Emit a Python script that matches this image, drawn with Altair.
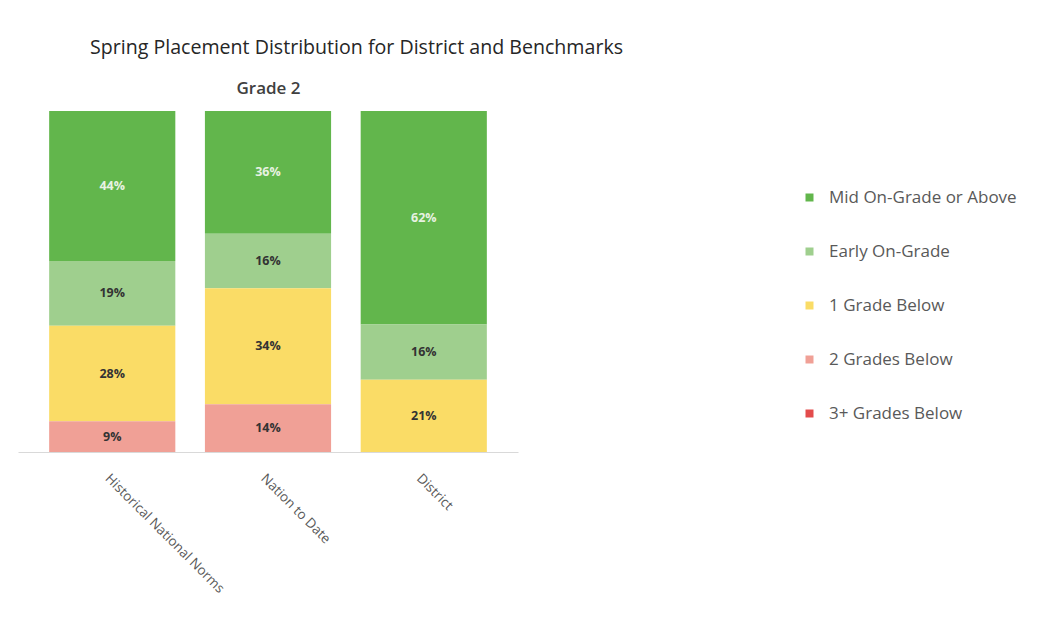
import altair as alt
import pandas as pd

groups = ["Historical National Norms", "Nation to Date", "District"]
levels = ["Mid On-Grade or Above", "Early On-Grade", "1 Grade Below", "2 Grades Below", "3+ Grades Below"]
colors = ["#62b64c", "#9fcf8e", "#fadc66", "#f0a096", "#e34c4c"]
mid = [44, 36, 62]
early = [19, 16, 16]
one_below = [28, 34, 21]
two_below = [9, 14, 0]
three_below = [0, 0, 0]

series = [mid, early, one_below, two_below, three_below]
rows = []
for i, g in enumerate(groups):
    for rank, (lvl, vals) in enumerate(zip(levels, series)):
        rows.append({"group": g, "level": lvl, "value": vals[i], "order": 4 - rank})
df = pd.DataFrame(rows)

FONT = "Open Sans"

base = alt.Chart(df).transform_stack(
    stack="value", groupby=["group"], as_=["v0", "v1"], offset="normalize",
    sort=[alt.SortField("order", order="ascending")]
).transform_calculate(
    mid="(datum.v0 + datum.v1) / 2",
    label="datum.value + '%'"
)

x_enc = alt.X(
    "group:N", sort=groups,
    scale=alt.Scale(paddingInner=0.19, paddingOuter=0.2),
    axis=alt.Axis(title=None, labelAngle=45, labelAlign="left", labelBaseline="top",
                  labelPadding=19, labelFontSize=13.5, labelColor="#595959", labelFont=FONT,
                  domainColor="#d9d9d9", ticks=False, labelLimit=400, grid=False)
)

y_axis = alt.Axis(title="Grade 2", labels=False, ticks=False, domain=False, grid=False,
                  titleAngle=0, titleX=250, titleY=-23, titleAlign="center",
                  titleBaseline="middle", titleFontSize=17, titleFontWeight=600,
                  titleColor="#404040", titleFont=FONT)

bars = base.mark_bar().encode(
    x=x_enc,
    y=alt.Y("v0:Q", scale=alt.Scale(domain=[0, 1], nice=False), axis=y_axis),
    y2="v1:Q",
    color=alt.Color(
        "level:N",
        scale=alt.Scale(domain=levels, range=colors),
        legend=alt.Legend(title=None, orient="none", legendX=783, legendY=78,
                          symbolType="square", symbolSize=64, symbolStrokeWidth=0,
                          labelFontSize=17, labelColor="#595959", labelFont=FONT,
                          rowPadding=36, labelOffset=11, labelLimit=400)
    ),
)

texts = base.transform_filter("datum.value > 0").mark_text(
    fontSize=12.5, fontWeight="bold", font=FONT
).encode(
    x=alt.X("group:N", sort=groups),
    y=alt.Y("mid:Q"),
    text="label:N",
    color=alt.condition(alt.datum.level == "Mid On-Grade or Above",
                        alt.value("#e8f2e2"), alt.value("#333333")),
)

chart = alt.layer(bars, texts).properties(
    width=500, height=341,
    padding={"left": 10, "top": 103, "right": 511, "bottom": 171},
    autosize=alt.AutoSizeParams(type="none"),
    background="white",
    title=alt.TitleParams(
        "Spring Placement Distribution for District and Benchmarks",
        anchor="start", frame="group", dx=72, offset=20, fontSize=19.6,
        font=FONT, fontWeight="normal", color="#262626"
    ),
).configure_view(stroke=None, strokeWidth=0)

chart.save("out.html", embed_options={"renderer": "svg", "actions": False})
